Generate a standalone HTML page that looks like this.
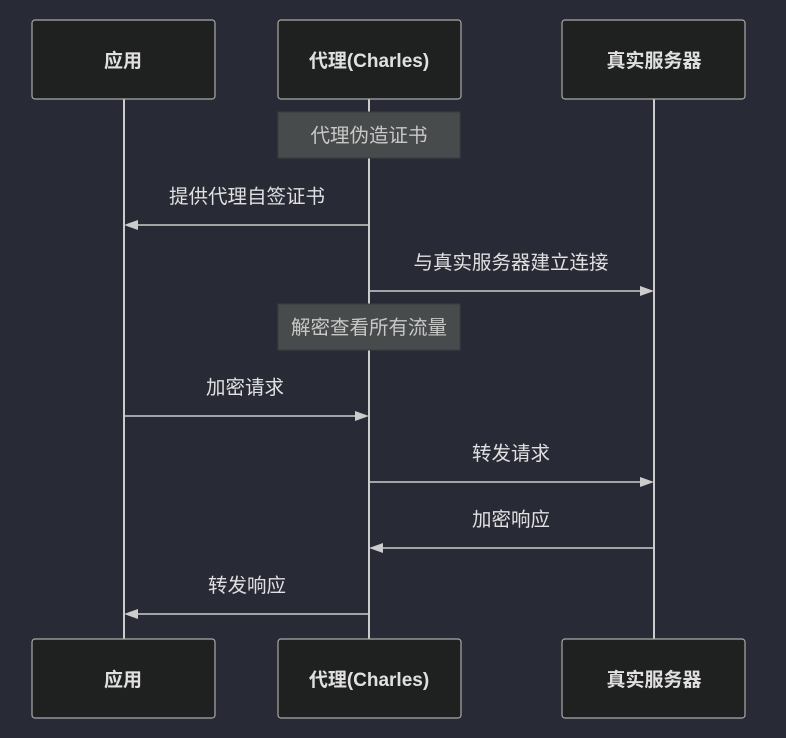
<!DOCTYPE html>
<html><head><meta charset="utf-8"><style>
body{margin:0;background:#282a36;}
svg{display:block}
text{font-family:"Liberation Sans","Noto Sans CJK SC",sans-serif;fill:#e0e0e0;text-anchor:middle}
</style></head><body>
<svg width="786" height="738" viewBox="0 0 786 738">
<rect width="786" height="738" fill="#282a36"/>
<g stroke="#cccccc" stroke-width="2">
<line x1="124" y1="99" x2="124" y2="639"/>
<line x1="369" y1="99" x2="369" y2="639"/>
<line x1="654" y1="99" x2="654" y2="639"/>
</g>
<g fill="#1f2020" stroke="#aaaaaa" stroke-width="1.2">
<rect x="32" y="20" width="183" height="79" rx="3"/>
<rect x="278" y="20" width="183" height="79" rx="3"/>
<rect x="562" y="20" width="183" height="79" rx="3"/>
<rect x="32" y="639" width="183" height="79" rx="3"/>
<rect x="278" y="639" width="183" height="79" rx="3"/>
<rect x="562" y="639" width="183" height="79" rx="3"/>
</g>
<g font-size="19" font-weight="bold">
<text x="123" y="67">应用</text><text x="369" y="67">代理(Charles)</text><text x="654" y="67">真实服务器</text>
<text x="123" y="686">应用</text><text x="369" y="686">代理(Charles)</text><text x="654" y="686">真实服务器</text>
</g>
<g fill="#484b4b" stroke="#3a3d3d">
<rect x="278" y="112" width="182" height="46"/>
<rect x="278" y="304" width="182" height="46"/>
</g>
<g font-size="19.5">
<text x="369" y="142" style="fill:#c8c8c8">代理伪造证书</text>
<text x="369" y="334" style="fill:#c8c8c8">解密查看所有流量</text>
</g>
<g stroke="#cccccc" stroke-width="1.5">
<line x1="369" y1="225" x2="130" y2="225"/>
<line x1="369" y1="291" x2="648" y2="291"/>
<line x1="124" y1="416" x2="363" y2="416"/>
<line x1="369" y1="482" x2="648" y2="482"/>
<line x1="654" y1="548" x2="375" y2="548"/>
<line x1="369" y1="614" x2="130" y2="614"/>
</g>
<g fill="#cccccc">
<polygon points="124,225 138,220 138,230"/>
<polygon points="654,291 640,286 640,296"/>
<polygon points="369,416 355,411 355,421"/>
<polygon points="654,482 640,477 640,487"/>
<polygon points="369,548 383,543 383,553"/>
<polygon points="124,614 138,609 138,619"/>
</g>
<g font-size="19.5">
<text x="247" y="203">提供代理自签证书</text>
<text x="511" y="269">与真实服务器建立连接</text>
<text x="245" y="394">加密请求</text>
<text x="511" y="460">转发请求</text>
<text x="511" y="526">加密响应</text>
<text x="247" y="592">转发响应</text>
</g>
</svg>
</body></html>
